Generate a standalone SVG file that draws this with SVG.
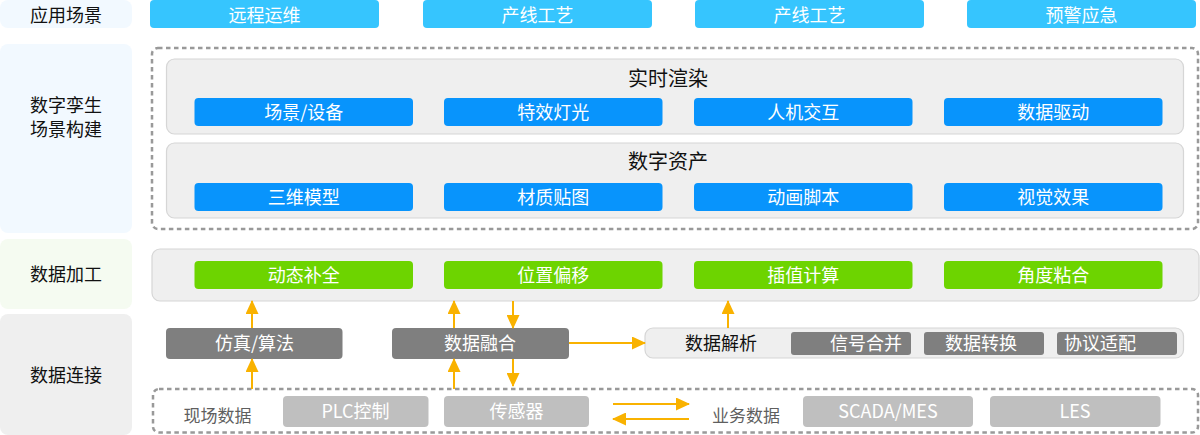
<svg xmlns="http://www.w3.org/2000/svg" width="1200" height="435" viewBox="0 0 1200 435">
<defs>
<style>
text{font-family:"Noto Sans CJK SC","Microsoft YaHei",sans-serif;text-anchor:middle}
.lbl{font-size:18px;fill:#111}
.wt{font-size:18px;fill:#fff}
.ttl{font-size:20px;fill:#111}
.gt{font-size:17px;fill:#5f5f5f}
.app{fill:#36c5fe}
.blue{fill:#0894fc}
.green{fill:#6dd400}
.dark{fill:#7f7f7f}
.light{fill:#bfbfbf}
.panel{fill:#efefef;stroke:#d6d6d6;stroke-width:1.2}
.dash{fill:none;stroke:#999;stroke-width:2.5;stroke-dasharray:4.5 3.5}
.arr{stroke:#f9b200;stroke-width:2;fill:none;marker-end:url(#ah)}
</style>
<marker id="ah" viewBox="0 0 14 13" refX="13" refY="6.5" markerWidth="14" markerHeight="13" markerUnits="userSpaceOnUse" orient="auto">
<path d="M0,0 L14,6.5 L0,13 z" fill="#f9b200"/>
</marker>
</defs>

<g id="side-labels">
<rect x="0" y="0" width="132" height="28" rx="8" fill="#f2f9ff"/>
<text class="lbl" x="66" y="21.5">应用场景</text>
<rect x="0" y="44" width="132" height="189" rx="8" fill="#f2f9ff"/>
<text class="lbl" x="66" y="112">数字孪生</text>
<text class="lbl" x="66" y="136">场景构建</text>
<rect x="0" y="239" width="132" height="70" rx="8" fill="#f5fbf1"/>
<text class="lbl" x="66" y="281">数据加工</text>
<rect x="0" y="314" width="132" height="121" rx="8" fill="#efefef"/>
<text class="lbl" x="66" y="381.5">数据连接</text>
</g>

<g id="app-scenes">
<g id="app1"><rect class="app" x="150" y="0" width="229" height="28" rx="4"/><text class="wt" x="264.5" y="21.5">远程运维</text></g>
<g id="app2"><rect class="app" x="423" y="0" width="229" height="28" rx="4"/><text class="wt" x="537.5" y="21.5">产线工艺</text></g>
<g id="app3"><rect class="app" x="695" y="0" width="229" height="28" rx="4"/><text class="wt" x="809.5" y="21.5">产线工艺</text></g>
<g id="app4"><rect class="app" x="967" y="0" width="229" height="28" rx="4"/><text class="wt" x="1081.5" y="21.5">预警应急</text></g>
</g>

<g id="twin-build">
<rect class="dash" x="152" y="48" width="1046" height="181" rx="6"/>
<g id="render">
<rect class="panel" x="166.5" y="59" width="1017" height="75" rx="8"/>
<text class="ttl" x="668" y="86.3">实时渲染</text>
<g id="r1"><rect class="blue" x="194.5" y="98" width="218.5" height="28" rx="4"/><text class="wt" x="303.7" y="118.8">场景/设备</text></g>
<g id="r2"><rect class="blue" x="444" y="98" width="218.5" height="28" rx="4"/><text class="wt" x="553.2" y="118.8">特效灯光</text></g>
<g id="r3"><rect class="blue" x="694" y="98" width="218.5" height="28" rx="4"/><text class="wt" x="803.2" y="118.8">人机交互</text></g>
<g id="r4"><rect class="blue" x="944" y="98" width="218.5" height="28" rx="4"/><text class="wt" x="1053.2" y="118.8">数据驱动</text></g>
</g>
<g id="assets">
<rect class="panel" x="166.5" y="143" width="1017" height="75" rx="8"/>
<text class="ttl" x="668" y="168.5">数字资产</text>
<g id="a1"><rect class="blue" x="194.5" y="183" width="218.5" height="28" rx="4"/><text class="wt" x="303.7" y="203.8">三维模型</text></g>
<g id="a2"><rect class="blue" x="444" y="183" width="218.5" height="28" rx="4"/><text class="wt" x="553.2" y="203.8">材质贴图</text></g>
<g id="a3"><rect class="blue" x="694" y="183" width="218.5" height="28" rx="4"/><text class="wt" x="803.2" y="203.8">动画脚本</text></g>
<g id="a4"><rect class="blue" x="944" y="183" width="218.5" height="28" rx="4"/><text class="wt" x="1053.2" y="203.8">视觉效果</text></g>
</g>
</g>

<g id="processing">
<rect class="panel" x="152" y="249" width="1047" height="52" rx="8"/>
<g id="p1"><rect class="green" x="194.5" y="261" width="218.5" height="28" rx="4"/><text class="wt" x="303.7" y="281.8">动态补全</text></g>
<g id="p2"><rect class="green" x="444" y="261" width="218.5" height="28" rx="4"/><text class="wt" x="553.2" y="281.8">位置偏移</text></g>
<g id="p3"><rect class="green" x="694" y="261" width="218.5" height="28" rx="4"/><text class="wt" x="803.2" y="281.8">插值计算</text></g>
<g id="p4"><rect class="green" x="944" y="261" width="218.5" height="28" rx="4"/><text class="wt" x="1053.2" y="281.8">角度粘合</text></g>
</g>

<g id="sim"><rect class="dark" x="166" y="328" width="176.5" height="31" rx="4"/><text class="wt" x="254.5" y="350.3">仿真/算法</text></g>
<g id="fusion"><rect class="dark" x="392" y="328" width="177" height="31" rx="4"/><text class="wt" x="480" y="350.3">数据融合</text></g>
<g id="parse">
<rect class="panel" x="645" y="328" width="538.5" height="30" rx="8"/>
<text class="lbl" x="721" y="350">数据解析</text>
<g id="s1"><rect class="dark" x="791" y="332" width="120" height="23" rx="3"/><text class="wt" x="866" y="350">信号合并</text></g>
<g id="s2"><rect class="dark" x="924" y="332" width="120" height="23" rx="3"/><text class="wt" x="981" y="350">数据转换</text></g>
<g id="s3"><rect class="dark" x="1057" y="332" width="120" height="23" rx="3"/><text class="wt" x="1100" y="350">协议适配</text></g>
</g>

<g id="sources">
<rect class="dash" x="153" y="389" width="1045" height="43.5" rx="6"/>
<text class="gt" x="217.5" y="421.5">现场数据</text>
<g id="plc"><rect class="light" x="283" y="396" width="145.5" height="31" rx="4"/><text class="wt" x="355.5" y="418.3">PLC控制</text></g>
<g id="sensor"><rect class="light" x="444" y="396" width="145" height="31" rx="4"/><text class="wt" x="516.5" y="418.3">传感器</text></g>
<text class="gt" x="746" y="421.5">业务数据</text>
<g id="scada"><rect class="light" x="803" y="396" width="170" height="31" rx="4"/><text class="wt" x="888" y="418.3">SCADA/MES</text></g>
<g id="les"><rect class="light" x="990" y="396" width="170.5" height="31" rx="4"/><text class="wt" x="1075" y="418.3">LES</text></g>
</g>

<g id="connectors">
<line class="arr" x1="252" y1="328" x2="252" y2="301"/>
<line class="arr" x1="252" y1="389" x2="252" y2="359"/>
<line class="arr" x1="454" y1="328" x2="454" y2="301"/>
<line class="arr" x1="454" y1="389" x2="454" y2="359"/>
<line class="arr" x1="513" y1="301" x2="513" y2="328"/>
<line class="arr" x1="513" y1="359" x2="513" y2="386"/>
<line class="arr" x1="728" y1="328" x2="728" y2="301"/>
<line class="arr" x1="569" y1="343" x2="645" y2="343"/>
<line class="arr" x1="613" y1="404" x2="689" y2="404"/>
<line class="arr" x1="689" y1="419" x2="613" y2="419"/>
</g>
</svg>
